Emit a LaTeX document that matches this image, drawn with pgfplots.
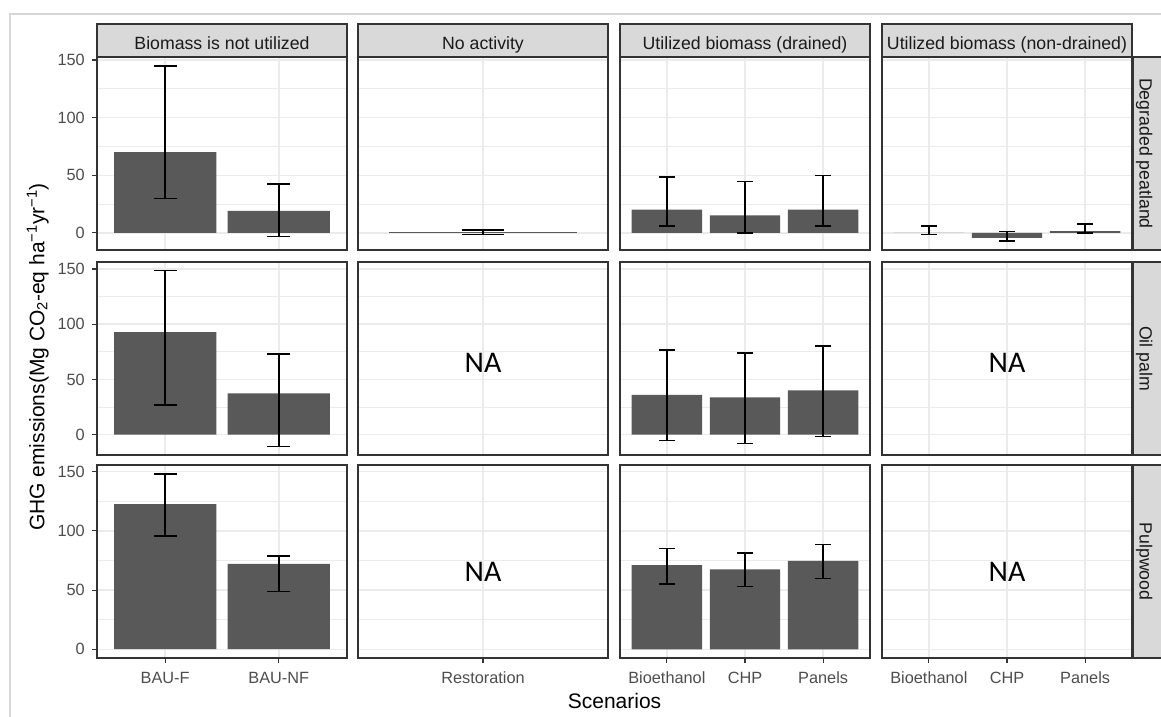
\documentclass[border=0pt]{standalone}
\usepackage{pgfplots}
\pgfplotsset{compat=1.18}
\usepackage{fontspec}
\setmainfont{Liberation Sans}
\newfontfamily\nafont{Carlito}
\definecolor{gtwenty}{HTML}{333333}
\definecolor{gthirty}{HTML}{4D4D4D}
\definecolor{gten}{HTML}{1A1A1A}
\definecolor{stripc}{HTML}{D9D9D9}
\definecolor{gridc}{HTML}{EBEBEB}
\definecolor{barc}{HTML}{595959}
\definecolor{framec}{HTML}{D6D6D6}
\pgfplotsset{
  panel/.style={
    scale only axis, width=250pt, height=193pt, anchor=south west,
    axis background/.style={fill=white},
    axis line style={draw=gtwenty, line width=1.2pt},
    tick align=outside, major tick length=5pt, minor tick length=0pt,
    tick style={draw=gtwenty, line width=1.1pt},
    xmajorgrids, ymajorgrids, yminorgrids,
    major grid style={draw=gridc, line width=1.4pt},
    minor grid style={draw=gridc, line width=0.8pt},
    ytick={0,50,100,150}, minor ytick={25,75,125},
    xtick pos=left, ytick pos=left,
    ticklabel style={font=\fontsize{16.3}{18}\selectfont, text=gthirty, inner sep=0pt},
    /pgf/number format/assume math mode=true,
    yticklabel shift=7pt, xticklabel shift=8.7pt,
  },
  noylab/.style={yticklabels={}, ytick style={draw=none}},
  noxlab/.style={xticklabels={}, xtick style={draw=none}},
  rowA/.style={ymin=-14.9, ymax=152.6},
  rowB/.style={ymin=-18.4, ymax=156.3},
  rowC/.style={ymin=-7.4, ymax=155.7},
  colA/.style={xmin=0.4, xmax=2.6, xtick={1,2}},
  colB/.style={xmin=0.4, xmax=1.6, xtick={1}},
  colC/.style={xmin=0.4, xmax=3.6, xtick={1,2,3}},
  barplot/.style={ybar, bar width=0.9, bar shift=0pt, fill=barc, draw=none},
  errb/.style={error bars/.cd, y dir=both, y explicit,
    error bar style={draw=black, line width=1.5pt},
    error mark=|,
    error mark options={draw=black, line width=1.5pt, mark size=#1}},
}
\newcommand{\NA}{\fontsize{30}{32}\nafont\selectfont NA}
\begin{document}
\begin{tikzpicture}[x=1pt,y=1pt]
\useasboundingbox (0,0) rectangle (1161,716);
\draw[framec, line width=2pt] (9.5,-10) -- (9.5,702) -- (1175,702);

% ---------- Row 1: Degraded peatland ----------
\begin{axis}[panel, rowA, colA, noxlab, at={(97pt,466pt)}]
\addplot[barplot, errb=11.36pt] table[x=x,y=y,y error plus=ep,y error minus=em]{
x y ep em
1 70 75 40
2 19 23.2 22
};
\end{axis}
\begin{axis}[panel, rowA, colB, noxlab, noylab, at={(358pt,466pt)}]
\addplot[barplot, errb=20.83pt] table[x=x,y=y,y error plus=ep,y error minus=em]{
x y ep em
1 0.6 1.7 2.1
};
\end{axis}
\begin{axis}[panel, rowA, colC, noxlab, noylab, at={(620pt,466pt)}]
\addplot[barplot, errb=7.81pt] table[x=x,y=y,y error plus=ep,y error minus=em]{
x y ep em
1 20.1 28.2 14
2 15.1 29.5 15.1
3 20.1 29.7 14
};
\end{axis}
\begin{axis}[panel, rowA, colC, noxlab, noylab, at={(882pt,466pt)}]
\addplot[barplot, errb=7.81pt] table[x=x,y=y,y error plus=ep,y error minus=em]{
x y ep em
1 0 6.1 1.5
2 -4.4 5.5 2.9
3 1.4 6.1 1.4
};
\end{axis}

% ---------- Row 2: Oil palm ----------
\begin{axis}[panel, rowB, colA, noxlab, at={(97pt,261pt)}]
\addplot[barplot, errb=11.36pt] table[x=x,y=y,y error plus=ep,y error minus=em]{
x y ep em
1 92.8 55.6 66
2 37.3 35.6 47.8
};
\end{axis}
\begin{axis}[panel, rowB, colB, noxlab, noylab, at={(358pt,261pt)}]
\node at (axis cs:1,65) {\NA};
\end{axis}
\begin{axis}[panel, rowB, colC, noxlab, noylab, at={(620pt,261pt)}]
\addplot[barplot, errb=7.81pt] table[x=x,y=y,y error plus=ep,y error minus=em]{
x y ep em
1 36.1 40.7 41.5
2 33.7 40.4 41.8
3 40.0 40.4 41.5
};
\end{axis}
\begin{axis}[panel, rowB, colC, noxlab, noylab, at={(882pt,261pt)}]
\node at (axis cs:2,65) {\NA};
\end{axis}

% ---------- Row 3: Pulpwood ----------
\begin{axis}[panel, rowC, colA, xticklabels={BAU-F,BAU-NF}, at={(97pt,58pt)}]
\addplot[barplot, errb=11.36pt] table[x=x,y=y,y error plus=ep,y error minus=em]{
x y ep em
1 122.6 25.7 26.9
2 72.2 6.7 23.3
};
\end{axis}
\begin{axis}[panel, rowC, colB, noylab, xticklabels={Restoration}, at={(358pt,58pt)}]
\node at (axis cs:1,65) {\NA};
\end{axis}
\begin{axis}[panel, rowC, colC, noylab, xticklabels={Bioethanol,CHP,Panels}, at={(620pt,58pt)}]
\addplot[barplot, errb=7.81pt] table[x=x,y=y,y error plus=ep,y error minus=em]{
x y ep em
1 71.0 14 16
2 67.6 13.8 14.7
3 74.7 13.7 14.9
};
\end{axis}
\begin{axis}[panel, rowC, colC, noylab, xticklabels={Bioethanol,CHP,Panels}, at={(882pt,58pt)}]
\node at (axis cs:2,65) {\NA};
\end{axis}

% ---------- strips ----------
\begin{scope}[every node/.style={font=\fontsize{17.7}{20}\selectfont, text=gten, anchor=base}]
\foreach \cx in {97,358,620,882}{
  \filldraw[fill=stripc, draw=gtwenty, line width=1.2pt] (\cx,659) rectangle ++(250,33);
}
\foreach \ry in {466,261,58}{
  \filldraw[fill=stripc, draw=gtwenty, line width=1.2pt] (1133,\ry) rectangle (1180,\ry+193);
}
\node at (222,666.7) {Biomass is not utilized};
\node at (483,666.7) {No activity};
\node at (745,666.7) {Utilized biomass (drained)};
\node at (1007,666.7) {Utilized biomass (non-drained)};
\node[rotate=-90] at (1139.5,562.5) {Degraded peatland};
\node[rotate=-90] at (1139.5,357.5) {Oil palm};
\node[rotate=-90] at (1139.5,154.5) {Pulpwood};
\end{scope}

% ---------- axis titles ----------
\node[rotate=90, anchor=base, font=\fontsize{21}{24}\selectfont] at (44.3,359)
  {GHG emissions(Mg CO\textsubscript{2}-eq ha\textsuperscript{−1}yr\textsuperscript{−1})};
\node[anchor=base, font=\fontsize{21}{24}\selectfont] at (614.5,8) {Scenarios};
\end{tikzpicture}
\end{document}
